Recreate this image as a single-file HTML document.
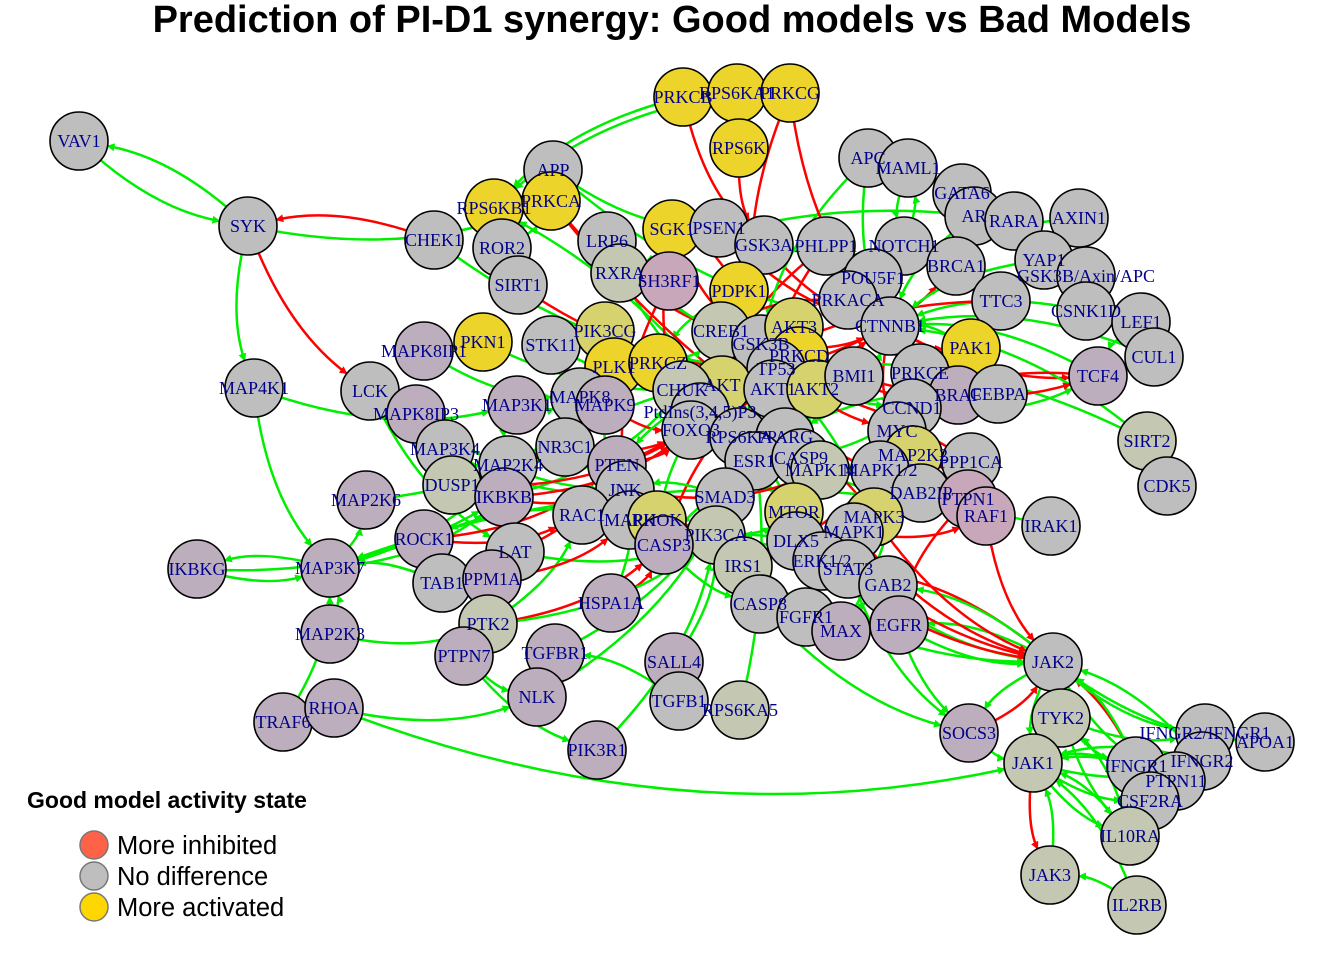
<!DOCTYPE html>
<html><head><meta charset="utf-8">
<style>
body{margin:0;background:#fff;width:1344px;height:960px;overflow:hidden}
svg{display:block}
.t{font-family:"Liberation Serif",serif;font-size:18px;fill:#00008b;text-anchor:middle;dominant-baseline:central}
</style></head><body>
<svg id="chart" width="1344" height="960" viewBox="0 0 1344 960">
<defs>
<marker id="ar" markerWidth="8" markerHeight="8" refX="7" refY="4" orient="auto" markerUnits="userSpaceOnUse"><path d="M0,0L8,4L0,8z" fill="#ff0000"/></marker>
<marker id="ag" markerWidth="8" markerHeight="8" refX="7" refY="4" orient="auto" markerUnits="userSpaceOnUse"><path d="M0,0L8,4L0,8z" fill="#00ee00"/></marker>
</defs>
<text x="672" y="32" text-anchor="middle" font-family="Liberation Sans, sans-serif" font-weight="bold" font-size="38">Prediction of PI-D1 synergy: Good models vs Bad Models</text>
<g id="edges"></g>
<g id="nodes"></g>
<g id="labels"></g>
<g>
<text x="27" y="808" font-family="Liberation Sans, sans-serif" font-weight="bold" font-size="23">Good model activity state</text>
<circle cx="94" cy="845" r="14" fill="#ff6347" stroke="#777" stroke-width="1.5"/>
<text x="117" y="854" font-family="Liberation Sans, sans-serif" font-size="25.5">More inhibited</text>
<circle cx="94" cy="876" r="14" fill="#bebebe" stroke="#777" stroke-width="1.5"/>
<text x="117" y="885" font-family="Liberation Sans, sans-serif" font-size="25.5">No difference</text>
<circle cx="94" cy="907" r="14" fill="#ffd700" stroke="#777" stroke-width="1.5"/>
<text x="117" y="916" font-family="Liberation Sans, sans-serif" font-size="25.5">More activated</text>
</g>
</svg>
<script>
const nodeNames=["VAV1","SYK","CHEK1","RPS6KB1","APP","PRKCA","ROR2","SIRT1","LRP6","SGK1","PSEN1","RXRA","SH3RF1","PRKCB","RPS6KA1","PRKCG","RPS6K","GSK3A","PDPK1","PHLPP1","APC","MAML1","NOTCH1","GATA6","AR","RARA","AXIN1","BRCA1","YAP1","GSK3B/Axin/APC","POU5F1","TTC3","PRKACA","CSNK1D","LEF1","CUL1","MAPK8IP1","PKN1","STK11","PIK3CG","CREB1","GSK3B","AKT3","CTNNB1","PAK1","PRKCD","TP53","PLK1","PRKCZ","AKT","AKT1","AKT2","BMI1","PRKCE","BRAF","CEBPA","TCF4","LCK","MAP4K1","MAPK8IP3","MAP3K1","MAPK8","MAPK9","CHUK","PtdIns(3,4,5)P3","FOXO3","CCND1","MYC","SIRT2","MAP3K4","NR3C1","RPS6KA","PPARG","ESR1","CASP9","MAP2K2","PPP1CA","MAPK14","MAPK1/2","DUSP1","MAP2K4","IKBKB","PTEN","JNK","SMAD3","DAB2IP","PTPN1","RAF1","IRAK1","CDK5","MAP2K6","RAC1","MAPK","RHOK","PIK3CA","MTOR","MAPK3","MAPK1","DLX5","CASP3","ROCK1","LAT","IKBKG","MAP3K7","TAB1","PPM1A","IRS1","ERK1/2","STAT3","GAB2","HSPA1A","CASP8","FGFR1","MAX","EGFR","MAP2K3","PTK2","PTPN7","TGFBR1","SALL4","JAK2","NLK","TGFB1","RPS6KA5","TRAF6","RHOA","PIK3R1","SOCS3","TYK2","JAK1","IFNGR2/IFNGR1","APOA1","IFNGR1","IFNGR2","PTPN11","CSF2RA","IL10RA","JAK3","IL2RB"];
const nodeX=[79,248,434,494,553,551,502,518,607,672,719,620,669,683,737,790,739,764,739,826,868,908,904,962,974,1014,1079,956,1044,1086,873,1001,848,1086,1141,1154,424,483,551,605,721,761,794,890,971,799,776,614,658,722,773,816,854,920,958,998,1098,370,254,416,517,580,605,682,700,691,912,897,1147,445,565,739,785,754,801,913,971,820,880,452,508,504,617,625,725,921,968,986,1051,1167,366,582,630,657,716,794,874,854,796,664,424,515,197,330,442,492,743,822,848,888,611,760,806,841,899,330,488,464,555,674,1053,537,679,740,283,334,597,969,1061,1033,1205,1265,1136,1202,1176,1150,1130,1050,1137];
const nodeY=[141,226,240,208,170,201,248,285,241,229,228,273,281,97,93,93,148,245,291,246,158,168,246,193,216,221,218,266,260,276,278,301,300,311,322,357,351,342,345,331,331,344,327,326,348,356,369,367,363,385,389,389,376,373,395,394,376,391,388,414,405,397,405,390,412,430,408,431,441,449,447,437,437,461,458,455,462,470,470,485,465,497,465,490,497,493,499,516,526,486,500,515,520,520,535,512,517,532,541,545,539,552,569,568,583,579,566,561,569,585,603,604,617,631,625,634,624,656,653,662,662,697,701,710,722,708,750,733,718,763,733,742,766,761,781,801,836,875,905];
const nodeState=["g","g","g","y","g","y","g","g","g","y","g","s","p","y","y","y","y","g","y","g","g","g","g","g","g","g","g","g","g","g","g","g","g","g","g","g","m","y","g","o","s","g","o","g","y","y","g","y","y","o","g","o","g","g","m","g","m","g","g","m","m","g","m","s","g","g","g","g","s","g","g","g","g","g","g","o","g","s","g","s","g","m","m","g","g","g","p","p","g","g","m","g","g","o","s","o","o","g","g","m","m","g","m","m","g","m","s","g","g","g","m","g","g","m","m","m","s","m","m","m","g","m","g","s","m","m","m","m","s","s","g","g","g","g","g","g","s","s","s"];
const edges=[
["SYK","VAV1","g"],["VAV1","SYK","g"],["CHEK1","SYK","r"],["SYK","LCK","r"],["SYK","MAP4K1","g"],["SYK","PRKCA","g"],["MAP4K1","MAP3K7","g"],["MAP4K1","MAP3K1","g"],["LCK","LAT","g"],["LCK","MAPK8IP3","g"],
["MAP3K7","IKBKG","g"],["IKBKG","MAP3K7","g"],["MAP3K7","MAP2K6","g"],["MAP3K7","MAP2K4","g"],["MAP3K7","IKBKB","g"],["MAP2K3","MAP3K7","g"],["TRAF6","MAP3K7","g"],["RHOA","NLK","g"],["RHOA","JAK1","g"],["MAP2K3","PTK2","g"],
["MAP2K6","MAPK9","g"],["ROCK1","PTEN","r"],["ROCK1","RAC1","r"],["PTK2","RAC1","g"],["PTK2","CASP3","r"],["TGFBR1","SMAD3","g"],["TGFB1","TGFBR1","g"],["SALL4","PIK3CA","g"],["PIK3R1","PIK3CA","g"],["NLK","SMAD3","g"],
["PTPN7","NLK","g"],["PTPN7","PIK3R1","g"],["TGFBR1","NLK","g"],["HSPA1A","JNK","g"],["LAT","PIK3CA","g"],["PPM1A","MAPK","r"],["TAB1","MAP3K7","g"],["DUSP1","JNK","r"],["DUSP1","MAPK9","r"],["MAP3K4","MAP2K4","g"],
["JAK2","STAT3","r"],["JAK2","EGFR","g"],["JAK2","GAB2","g"],["JAK2","SOCS3","g"],["SOCS3","JAK2","r"],["SOCS3","JAK1","g"],["TYK2","JAK2","g"],["JAK1","JAK2","g"],["JAK2","JAK1","g"],["JAK3","JAK1","g"],
["IL2RB","JAK1","g"],["IL2RB","JAK3","g"],["IL10RA","TYK2","g"],["IL10RA","JAK1","g"],["CSF2RA","JAK2","r"],["IFNGR1","JAK2","g"],["IFNGR2","JAK2","g"],["IFNGR1","JAK1","g"],["IFNGR2","JAK1","g"],["JAK2","IFNGR2/IFNGR1","g"],
["JAK2","APOA1","g"],["JAK2","PTPN11","g"],["TYK2","IFNGR2/IFNGR1","g"],["JAK1","IFNGR2","g"],["JAK1","CSF2RA","g"],["JAK1","IL10RA","g"],["JAK1","JAK3","r"],["PTPN11","JAK1","g"],["TYK2","IFNGR1","g"],["JAK2","IL10RA","g"],
["MTOR","JAK2","r"],["MAPK3","JAK2","r"],["MAPK1","JAK2","r"],["STAT3","JAK2","g"],["DLX5","JAK2","r"],["IRS1","JAK2","g"],["RAF1","JAK2","r"],["EGFR","JAK2","g"],["GAB2","SOCS3","g"],["CASP8","SOCS3","g"],
["EGFR","STAT3","g"],["EGFR","PIK3CA","g"],["FGFR1","GAB2","g"],["GAB2","PIK3CA","g"],["STAT3","SOCS3","g"],["STAT3","MYC","g"],["ERK1/2","MAPK3","g"],["MAPK1","RAF1","r"],["RAF1","MAP2K2","r"],["PAK1","BRAF","r"],
["PAK1","CTNNB1","g"],["TCF4","CTNNB1","g"],["LEF1","TCF4","g"],["CSNK1D","CTNNB1","g"],["CTNNB1","TCF4","r"],["CTNNB1","MYC","r"],["GSK3B","CTNNB1","r"],["GSK3B","CREB1","r"],["GSK3A","CTNNB1","r"],["RPS6K","RPS6KA1","g"],
["RPS6K","GSK3A","r"],["PRKCB","GSK3A","r"],["PRKCG","GSK3B","r"],["RPS6KA1","RPS6KB1","g"],["PDPK1","AKT","r"],["PDPK1","SGK1","r"],["PDPK1","PRKCZ","g"],["AKT","FOXO3","r"],["AKT","GSK3B","r"],["AKT","MTOR","g"],
["AKT","TP53","r"],["AKT1","CASP9","r"],["PHLPP1","AKT","r"],["PHLPP1","AKT1","r"],["PTEN","AKT","r"],["PTEN","PIK3CA","r"],["PIK3CA","PDPK1","g"],["PIK3CA","MTOR","g"],["PIK3CG","AKT","g"],["MTOR","RPS6KB1","g"],
["TP53","BRCA1","r"],["MYC","CCND1","g"],["CCND1","CTNNB1","g"],["CDK5","SIRT2","g"],["SIRT2","TP53","g"],["SIRT1","TP53","r"],["APP","PSEN1","g"],["PSEN1","NOTCH1","g"],["NOTCH1","MAML1","g"],["APC","GSK3B","g"],
["MAML1","NOTCH1","g"],["BRCA1","GATA6","r"],["CHUK","IKBKB","g"],["IKBKB","CHUK","g"],["IKBKG","IKBKB","g"],["MAP3K1","MAP2K4","g"],["MAP3K4","JNK","g"],["MAPK8IP1","MAPK8","g"],["MAPK8IP3","JNK","g"],["JNK","NR3C1","r"],
["MAPK8","JNK","g"],["MAPK9","JNK","g"],["MAP2K4","MAPK8","g"],["DUSP1","FOXO3","r"],["NR3C1","PLK1","r"],["FOXO3","CASP3","g"],["PLK1","PRKCD","r"],["PRKCZ","RAF1","g"],["PRKCD","BRAF","r"],["PRKCE","MAP2K2","r"],
["BRAF","MAP2K2","r"],["MAP2K2","MAPK3","r"],["MAPK3","CASP9","r"],["CASP9","CASP3","g"],["CASP3","CASP8","g"],["CASP8","CASP3","r"],["HSPA1A","CASP3","r"],["LAT","PTEN","r"],["PPM1A","MAP2K4","r"],["TAB1","MAP3K7","g"],
["IRS1","PIK3CA","g"],["RPS6KA5","CREB1","g"],["SMAD3","CREB1","g"],["CREB1","ESR1","r"],["ESR1","PPARG","r"],["PPARG","RXRA","g"],["RXRA","PPARG","g"],["SH3RF1","JNK","r"],["SGK1","FOXO3","r"],["STK11","AKT","g"],
["PKN1","AKT","g"],["RPS6KB1","PRKCA","g"],["PRKCA","GSK3B","r"],["ROR2","PRKCA","g"],["LRP6","GSK3B","g"],["DLX5","MYC","r"],["MAX","MYC","g"],["IRAK1","MAP3K7","g"],["DAB2IP","RAF1","r"],["PTPN1","EGFR","r"],
["CEBPA","PPARG","g"],["BMI1","CTNNB1","g"],["POU5F1","CTNNB1","g"],["TTC3","AKT","r"],["GATA6","AR","g"],["AR","CTNNB1","g"],["RARA","RXRA","g"],["YAP1","CTNNB1","g"],["AXIN1","GSK3B","g"],["PRKACA","CREB1","r"],
["CHEK1","TP53","g"],["PRKCA","RAF1","r"],["SGK1","GSK3B","r"],["PRKCB","RPS6KB1","g"],["PRKCG","CTNNB1","r"],["APP","CTNNB1","g"],["NOTCH1","CTNNB1","r"],["PHLPP1","PRKCE","r"],["PSEN1","CTNNB1","r"],["APC","CTNNB1","g"],
["MAPK14","CREB1","g"],["MAPK1/2","MYC","r"],["MAPK14","TP53","g"],["ERK1/2","RPS6KA","g"],["RAC1","MAPK","g"],["MAPK","JNK","g"],["RHOK","ROCK1","g"],["JNK","MAPK14","r"],["PTEN","FOXO3","r"],["PtdIns(3,4,5)P3","AKT","g"],
["PtdIns(3,4,5)P3","PDPK1","g"],["FOXO3","TP53","r"],["MAPK9","FOXO3","r"],["MAP3K1","MAPK8","g"],["CHUK","CTNNB1","r"],["IKBKB","FOXO3","r"],["NR3C1","FOXO3","r"],["TP53","PTEN","g"],["ESR1","CCND1","g"],["GSK3B","MYC","r"],
["CREB1","CCND1","g"],["AKT2","GSK3B","r"],["AKT3","TP53","r"],["PRKCD","CASP3","r"],["PLK1","TP53","r"],["PRKCZ","CREB1","g"],["MAPK3","CREB1","g"],["SMAD3","JNK","g"],["PTK2","PIK3CA","g"],
["PPP1CA","AKT","r"],["MAPK1/2","CTNNB1","g"],["PRKCE","CTNNB1","g"],["CCND1","TCF4","g"],["SIRT2","CTNNB1","g"],["CUL1","CTNNB1","g"],["TCF4","CCND1","r"],["CTNNB1","CEBPA","g"],["CTNNB1","PAK1","r"],["BMI1","TCF4","r"]
];
const colorMap={g:"#bebebe",s:"#c4c7b2",y:"#ecd42a",o:"#d6d26e",m:"#bcaebc",p:"#c7a7b9"};
const NS="http://www.w3.org/2000/svg";
const eg=document.getElementById('edges'),ng=document.getElementById('nodes'),lg=document.getElementById('labels');
const R=29;
function idx(n){return nodeNames.indexOf(n);}
for(let i=0;i<edges.length;i++){
  const a=idx(edges[i][0]),b=idx(edges[i][1]);
  if(a<0||b<0)continue;
  const x1=nodeX[a],y1=nodeY[a],x2=nodeX[b],y2=nodeY[b];
  const dx=x2-x1,dy=y2-y1;
  const cx=(x1+x2)/2-dy*0.15,cy=(y1+y2)/2+dx*0.15;
  const vx=x2-cx,vy=y2-cy,vl=Math.hypot(vx,vy)||1;
  const ex=x2-vx/vl*R,ey=y2-vy/vl*R;
  const p=document.createElementNS(NS,'path');
  p.setAttribute('d',`M${x1},${y1}Q${cx},${cy} ${ex},${ey}`);
  const t=edges[i][2];
  p.setAttribute('stroke',t==='r'?'#ff0000':'#00ee00');
  p.setAttribute('stroke-width','2.5');
  p.setAttribute('fill','none');
  p.setAttribute('marker-end',t==='r'?'url(#ar)':'url(#ag)');
  
  
  eg.appendChild(p);
}
for(let i=0;i<nodeNames.length;i++){
  const c=document.createElementNS(NS,'circle');
  c.setAttribute('cx',nodeX[i]);c.setAttribute('cy',nodeY[i]);c.setAttribute('r',R);
  c.setAttribute('fill',colorMap[nodeState[i]]||'#bebebe');
  c.setAttribute('stroke','#000');c.setAttribute('stroke-width','1.6');
  
  
  ng.appendChild(c);
  const t=document.createElementNS(NS,'text');
  t.setAttribute('x',nodeX[i]);t.setAttribute('y',nodeY[i]);t.setAttribute('class','t');
  
  
  t.textContent=nodeNames[i];
  lg.appendChild(t);
}
</script>
</body></html>
